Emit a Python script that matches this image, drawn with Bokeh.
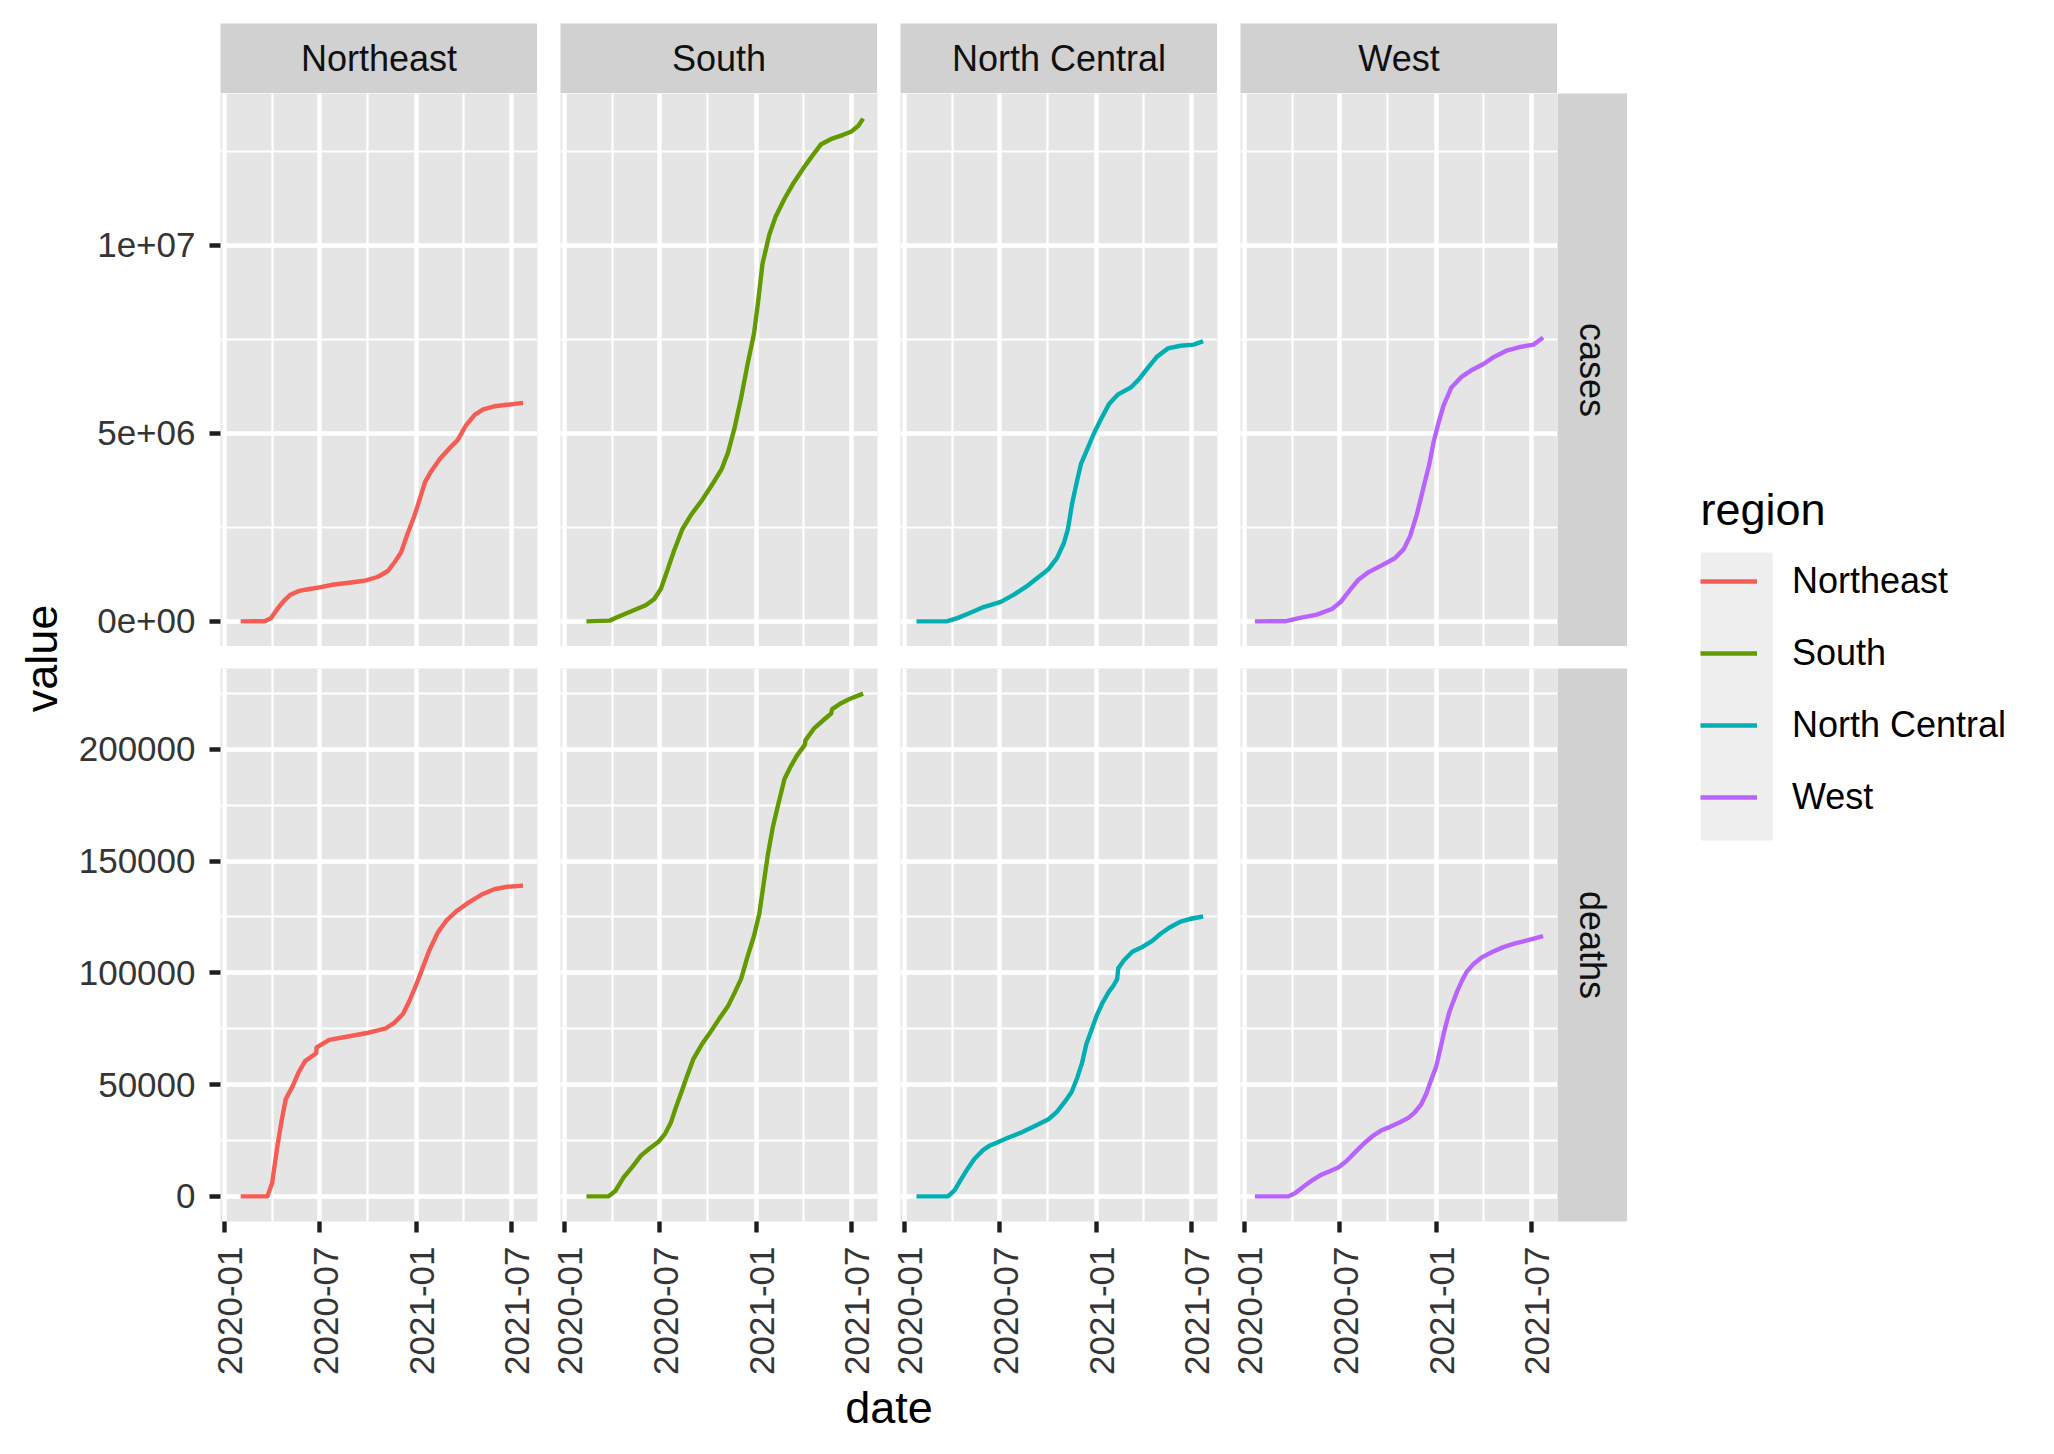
import math
import pandas as pd
from bokeh.plotting import figure
from bokeh.layouts import row, column
from bokeh.models import (ColumnDataSource, Range1d, FixedTicker, Grid, LinearAxis,
                          CustomJSTickFormatter, Label, Legend, LegendItem, Spacer)
from bokeh.embed import file_html
from bokeh.resources import INLINE

# facets
regions = ["Northeast", "South", "North Central", "West"]
metrics = ["cases", "deaths"]
colors = ["#F65C53", "#639A00", "#00AEB4", "#B863FF"]

# axis ticks
x_tick_dates = ["2020-01-01", "2020-07-01", "2021-01-01", "2021-07-01"]
x_tick_labels = ["2020-01", "2020-07", "2021-01", "2021-07"]
case_ticks = [0, 5_000_000, 10_000_000]
case_tick_labels = ["0e+00", "5e+06", "1e+07"]
case_minor = [2_500_000, 7_500_000, 12_500_000]
death_ticks = [0, 50_000, 100_000, 150_000, 200_000]
death_tick_labels = ["0", "50000", "100000", "150000", "200000"]
death_minor = [25_000, 75_000, 125_000, 175_000, 225_000]

# cumulative values
ne_case_dates = ["2020-02-01", "2020-03-18", "2020-03-30", "2020-04-11", "2020-04-23", "2020-05-06",
                 "2020-05-22", "2020-06-12", "2020-07-03", "2020-07-28", "2020-08-22", "2020-09-24",
                 "2020-10-19", "2020-11-08", "2020-11-21", "2020-12-03", "2020-12-15", "2020-12-28",
                 "2021-01-05", "2021-01-18", "2021-01-30", "2021-02-16", "2021-03-04", "2021-03-21",
                 "2021-04-06", "2021-04-23", "2021-05-09", "2021-05-30", "2021-06-24", "2021-07-24"]
ne_cases = [0, 5000, 87000, 330000, 540000, 710000, 810000, 860000, 910000, 980000, 1020000,
            1080000, 1180000, 1340000, 1580000, 1830000, 2310000, 2790000, 3130000, 3710000,
            4000000, 4340000, 4580000, 4820000, 5210000, 5500000, 5640000, 5720000, 5760000, 5810000]

ne_death_dates = ["2020-02-01", "2020-03-23", "2020-04-01", "2020-04-11", "2020-04-19", "2020-04-27",
                  "2020-05-10", "2020-05-22", "2020-06-03", "2020-06-24", "2020-06-25", "2020-07-19",
                  "2020-08-21", "2020-10-02", "2020-11-04", "2020-11-20", "2020-12-07", "2020-12-19",
                  "2021-01-01", "2021-01-13", "2021-01-26", "2021-02-11", "2021-02-28", "2021-03-20",
                  "2021-04-10", "2021-05-05", "2021-05-30", "2021-06-24", "2021-07-24"]
ne_deaths = [0, 0, 6000, 22300, 33700, 43500, 49200, 55700, 60500, 64000, 66600, 70000, 71400,
             73200, 75200, 77600, 81700, 87400, 94700, 102000, 110000, 118000, 123500, 127800,
             131300, 134900, 137400, 138500, 139000]

s_case_dates = ["2020-02-12", "2020-03-27", "2020-04-15", "2020-05-10", "2020-06-04", "2020-06-20",
                "2020-07-03", "2020-07-15", "2020-07-28", "2020-08-13", "2020-08-30", "2020-09-20",
                "2020-10-10", "2020-10-27", "2020-11-08", "2020-11-21", "2020-12-03", "2020-12-15",
                "2020-12-28", "2021-01-05", "2021-01-13", "2021-01-26", "2021-02-07", "2021-02-24",
                "2021-03-12", "2021-04-02", "2021-04-19", "2021-05-05", "2021-05-26", "2021-06-16",
                "2021-07-02", "2021-07-15", "2021-07-24"]
s_cases = [0, 20000, 135000, 280000, 430000, 590000, 860000, 1340000, 1870000, 2450000, 2840000,
           3230000, 3660000, 4050000, 4480000, 5160000, 5930000, 6800000, 7670000, 8540000,
           9510000, 10280000, 10760000, 11240000, 11630000, 12070000, 12400000, 12690000,
           12840000, 12940000, 13030000, 13180000, 13370000]

s_death_dates = ["2020-02-12", "2020-03-25", "2020-04-07", "2020-04-23", "2020-05-10", "2020-05-26",
                 "2020-06-12", "2020-06-28", "2020-07-11", "2020-07-22", "2020-07-30", "2020-08-09",
                 "2020-08-21", "2020-09-03", "2020-09-19", "2020-10-06", "2020-10-22", "2020-11-08",
                 "2020-11-20", "2020-12-03", "2020-12-15", "2020-12-28", "2021-01-07", "2021-01-15",
                 "2021-01-23", "2021-02-02", "2021-02-12", "2021-02-24", "2021-03-08", "2021-03-20",
                 "2021-04-04", "2021-04-05", "2021-04-22", "2021-05-09", "2021-05-24", "2021-05-26",
                 "2021-06-11", "2021-06-28", "2021-07-24"]
s_deaths = [0, 0, 2400, 8500, 13300, 18200, 21500, 24300, 28000, 32900, 38600, 45100, 53200,
            61400, 67900, 73600, 79300, 85000, 90700, 97200, 106900, 116700, 126500, 139500,
            152500, 165500, 175300, 186700, 192400, 197300, 202100, 204000, 209500, 213000,
            216000, 218000, 220500, 222500, 224900]

nc_case_dates = ["2020-01-24", "2020-03-23", "2020-04-11", "2020-05-06", "2020-05-31", "2020-07-03",
                 "2020-07-28", "2020-08-21", "2020-09-15", "2020-10-02", "2020-10-18", "2020-10-31",
                 "2020-11-08", "2020-11-16", "2020-11-25", "2020-12-03", "2020-12-15", "2020-12-28",
                 "2021-01-09", "2021-01-26", "2021-02-11", "2021-03-08", "2021-03-25", "2021-04-10",
                 "2021-04-27", "2021-05-18", "2021-06-11", "2021-07-06", "2021-07-24"]
nc_cases = [0, 5000, 87000, 230000, 380000, 520000, 710000, 930000, 1200000, 1390000, 1680000,
            2070000, 2450000, 3130000, 3710000, 4190000, 4580000, 5010000, 5350000, 5790000,
            6030000, 6220000, 6460000, 6750000, 7040000, 7260000, 7330000, 7360000, 7450000]

nc_death_dates = ["2020-01-24", "2020-03-24", "2020-04-06", "2020-04-18", "2020-05-01", "2020-05-13",
                  "2020-05-30", "2020-06-11", "2020-06-24", "2020-07-19", "2020-08-13", "2020-09-07",
                  "2020-10-02", "2020-10-18", "2020-11-03", "2020-11-15", "2020-11-26", "2020-12-05",
                  "2020-12-13", "2020-12-23", "2021-01-02", "2021-01-13", "2021-01-25", "2021-02-02",
                  "2021-02-10", "2021-02-12", "2021-02-23", "2021-03-11", "2021-04-01", "2021-04-18",
                  "2021-05-04", "2021-05-21", "2021-06-11", "2021-07-01", "2021-07-24"]
nc_deaths = [0, 0, 2800, 7600, 12500, 16600, 20700, 22600, 23900, 26400, 28800, 31600, 34500,
             37800, 42600, 46700, 53200, 59700, 67900, 74400, 80900, 86600, 91500, 93900, 97200,
             102000, 105600, 109400, 111800, 114300, 117500, 120300, 122900, 124200, 125200]

w_case_dates = ["2020-01-21", "2020-03-21", "2020-04-14", "2020-05-18", "2020-06-16", "2020-07-03",
                "2020-07-19", "2020-08-05", "2020-08-25", "2020-09-19", "2020-10-14", "2020-10-31",
                "2020-11-12", "2020-11-25", "2020-12-07", "2020-12-19", "2020-12-27", "2021-01-05",
                "2021-01-15", "2021-01-30", "2021-02-19", "2021-03-12", "2021-04-02", "2021-04-22",
                "2021-05-17", "2021-06-11", "2021-07-06", "2021-07-24"]
w_cases = [0, 5000, 87000, 180000, 330000, 520000, 810000, 1100000, 1310000, 1490000, 1680000,
           1920000, 2260000, 2840000, 3520000, 4190000, 4770000, 5260000, 5740000, 6220000,
           6510000, 6700000, 6850000, 7040000, 7210000, 7300000, 7360000, 7550000]

w_death_dates = ["2020-01-21", "2020-03-25", "2020-04-07", "2020-04-23", "2020-05-10", "2020-05-26",
                 "2020-06-12", "2020-06-28", "2020-07-14", "2020-07-31", "2020-08-17", "2020-09-03",
                 "2020-09-19", "2020-10-06", "2020-10-22", "2020-11-08", "2020-11-20", "2020-12-03",
                 "2020-12-13", "2020-12-24", "2021-01-01", "2021-01-09", "2021-01-17", "2021-01-26",
                 "2021-02-03", "2021-02-11", "2021-02-19", "2021-02-28", "2021-03-12", "2021-03-29",
                 "2021-04-19", "2021-05-09", "2021-05-30", "2021-06-20", "2021-07-24"]
w_deaths = [0, 0, 1500, 4400, 7300, 9600, 11200, 12900, 15800, 19900, 23900, 27200, 29600,
            31200, 32900, 35000, 37300, 41000, 45900, 53200, 58100, 66200, 74400, 82500, 87400,
            92300, 96400, 100400, 103700, 106900, 109400, 111500, 113100, 114300, 116400]

series = {
    ("Northeast", "cases"): (ne_case_dates, ne_cases),
    ("Northeast", "deaths"): (ne_death_dates, ne_deaths),
    ("South", "cases"): (s_case_dates, s_cases),
    ("South", "deaths"): (s_death_dates, s_deaths),
    ("North Central", "cases"): (nc_case_dates, nc_cases),
    ("North Central", "deaths"): (nc_death_dates, nc_deaths),
    ("West", "cases"): (w_case_dates, w_cases),
    ("West", "deaths"): (w_death_dates, w_deaths),
}

# look
FONT = "Liberation Sans"
PANEL_BG = "#E5E5E5"
STRIP_BG = "#D1D1D1"
KEY_BG = "#EEEEEE"
TICK_COL = "#1F1F1F"
TICK_TXT = "#353535"
STRIP_TXT = "#101010"
LW = 4.4

PW, PH = 317, 553          # panel size
GAP = 23                   # gap between panel columns
PAD_L, PAD_R = 11, 12      # gap split into the panels' own borders (room for tick labels)
LEFT = 150                 # room for the y tick labels
BOTTOM = 160               # room for the x tick labels
STRIP = 70
TOP = 23                   # white band above the strips
YT_W = 70                  # width of the y title column
XT_H = 65                  # height of the x title band
H = TOP + STRIP + PH + 22 + PH + BOTTOM + XT_H


def ms(d):
    return pd.Timestamp(d).value / 1e6


def tick_formatter(vals, labs):
    return CustomJSTickFormatter(args=dict(vals=list(vals), labs=list(labs)), code="""
        for (let i = 0; i < vals.length; i++) {
            if (Math.abs(vals[i] - tick) <= 1e-6 * Math.max(1, Math.abs(tick))) return labs[i];
        }
        return "";
    """)


# shared x range, with ggplot's 5% expansion
all_dates = [ms(d) for k in series for d in series[k][0]]
x_lo, x_hi = min(all_dates), max(all_dates)
x_pad = 0.05 * (x_hi - x_lo)
x_range = Range1d(x_lo - x_pad, x_hi + x_pad)
x_major = [ms(d) for d in x_tick_dates]
x_minor = [(a + b) / 2 for a, b in zip(x_major[:-1], x_major[1:])]
# rotated labels sit a little right of their tick, as with ggplot's vjust=1
shift = 6 * (x_range.end - x_range.start) / PW
label_range = Range1d(x_range.start - shift, x_range.end - shift)

y_ranges = {}
for m in metrics:
    top = max(max(series[(r, m)][1]) for r in regions)
    y_ranges[m] = Range1d(-0.05 * top, 1.05 * top)
y_major = {"cases": case_ticks, "deaths": death_ticks}
y_minor = {"cases": case_minor, "deaths": death_minor}
y_labels = {"cases": case_tick_labels, "deaths": death_tick_labels}

grid_style = dict(grid_line_color="white", grid_line_width=LW,
                  minor_grid_line_color="white", minor_grid_line_width=LW / 2)
axis_style = dict(axis_line_color=None, minor_tick_line_color=None,
                  major_tick_in=0, major_tick_line_color=TICK_COL, major_tick_line_width=LW,
                  major_label_text_font=FONT, major_label_text_font_size="35px",
                  major_label_text_color=TICK_TXT)


def bare_fig(w, h, **kw):
    opts = dict(width=w, height=h, x_axis_location=None, y_axis_location=None, tools="",
                toolbar_location=None, output_backend="svg", min_border=0,
                border_fill_color="white", outline_line_color=None)
    opts.update(kw)
    p = figure(**opts)
    p.center = []          # drop the default grids
    return p


def make_panel(ri, metric, bottom):
    left = LEFT if ri == 0 else PAD_L
    right = PAD_R if ri < len(regions) - 1 else 0
    low = BOTTOM if bottom else 0
    p = bare_fig(PW + left + right, PH + low, x_range=x_range, y_range=y_ranges[metric],
                 min_border_left=left, min_border_right=right, min_border_bottom=low,
                 background_fill_color=PANEL_BG)
    p.add_layout(Grid(dimension=0, ticker=FixedTicker(ticks=x_major, minor_ticks=x_minor), **grid_style))
    p.add_layout(Grid(dimension=1, ticker=FixedTicker(ticks=y_major[metric], minor_ticks=y_minor[metric]),
                      **grid_style))
    dates, vals = series[(regions[ri], metric)]
    src = ColumnDataSource(dict(date=pd.to_datetime(dates).to_numpy(), value=vals))
    p.line("date", "value", source=src, line_color=colors[ri], line_width=LW, line_join="round")
    if ri == 0:
        ax = LinearAxis(ticker=FixedTicker(ticks=y_major[metric]),
                        formatter=tick_formatter(y_major[metric], y_labels[metric]),
                        major_tick_out=11, major_label_standoff=14, **axis_style)
        p.add_layout(ax, "left")
    if bottom:
        ticks_only = LinearAxis(ticker=FixedTicker(ticks=x_major), formatter=tick_formatter([], []),
                                major_tick_out=11, major_label_standoff=0,
                                **{**axis_style, "major_label_text_font_size": "1px"})
        p.add_layout(ticks_only, "below")
        p.extra_x_ranges = {"lab": label_range}
        labels = LinearAxis(x_range_name="lab", ticker=FixedTicker(ticks=x_major),
                            formatter=tick_formatter(x_major, x_tick_labels),
                            major_tick_out=0, major_label_standoff=14,
                            major_label_orientation=math.pi / 2,
                            **{**axis_style, "major_tick_line_color": None})
        p.add_layout(labels, "below")
    return p


def strip_fig(text, w, h, top=0, low=0, angle=0.0):
    p = bare_fig(w, h + top + low, x_range=Range1d(0, 1), y_range=Range1d(0, 1),
                 min_border_top=top, min_border_bottom=low, background_fill_color=STRIP_BG)
    p.add_layout(Label(x=0.5, y=0.5, text=text, angle=angle, text_align="center",
                       text_baseline="middle", text_font=FONT, text_font_size="36px",
                       text_color=STRIP_TXT))
    return p


# top strips
top_row = [Spacer(width=LEFT, height=TOP + STRIP)]
for i, r in enumerate(regions):
    if i:
        top_row.append(Spacer(width=GAP, height=TOP + STRIP))
    top_row.append(strip_fig(r, PW, STRIP, top=TOP))

rows = []
for mi, m in enumerate(metrics):
    bottom = mi == len(metrics) - 1
    kids = [make_panel(ri, m, bottom) for ri in range(len(regions))]
    kids.append(strip_fig(m, STRIP, PH, low=BOTTOM if bottom else 0, angle=-math.pi / 2))
    rows.append(row(*kids))

main_w = LEFT + 4 * PW + 3 * GAP + STRIP
x_title = bare_fig(main_w, XT_H, x_range=Range1d(0, main_w), y_range=Range1d(XT_H, 0))
x_title.add_layout(Label(x=LEFT + (4 * PW + 3 * GAP) / 2, y=26, text="date", text_align="center",
                         text_baseline="middle", text_font=FONT, text_font_size="45px",
                         text_color="black"))

main = column(row(*top_row), rows[0], Spacer(width=10, height=22), rows[1], x_title)

# side panels share the same top border (a row lines up its plots' frames)
LG_W, LG_LEFT, LG_TOP = 2046 - YT_W - main_w, 73, 545
y_title = bare_fig(YT_W, H, x_range=Range1d(0, YT_W), y_range=Range1d(H - LG_TOP, 0),
                   min_border_top=LG_TOP)
y_title.add_layout(Label(x=41, y=658 - LG_TOP, text="value", angle=math.pi / 2, text_align="center",
                         text_baseline="middle", text_font=FONT, text_font_size="45px",
                         text_color="black"))

# legend panel
lg = bare_fig(LG_W, H, x_range=Range1d(0, LG_W - LG_LEFT), y_range=Range1d(H - LG_TOP, 0),
              min_border_left=LG_LEFT, min_border_top=LG_TOP, title="region")
lg.title.text_font = FONT
lg.title.text_font_size = "45px"
lg.title.text_font_style = "normal"
lg.title.text_color = "black"
lg.title.align = "left"
lg.title.standoff = 22
lg.quad(left=0, right=72, top=7, bottom=7 + 72 * len(regions), fill_color=KEY_BG, line_color=None)
items = []
for r, c in zip(regions, colors):
    g = lg.line(x=[0, 1], y=[-50, -50], line_color=c, line_width=LW)
    items.append(LegendItem(label=r, renderers=[g]))
legend = Legend(items=items, location="top_left", margin=0, padding=7, spacing=0,
                glyph_width=57, glyph_height=72, label_height=72, label_standoff=35,
                label_text_font=FONT, label_text_font_size="36px", label_text_color="black",
                border_line_color=None, background_fill_alpha=0)
lg.add_layout(legend)

p = row(y_title, main, lg)
open("out.html", "w").write(file_html(p, INLINE, "value by region"))
